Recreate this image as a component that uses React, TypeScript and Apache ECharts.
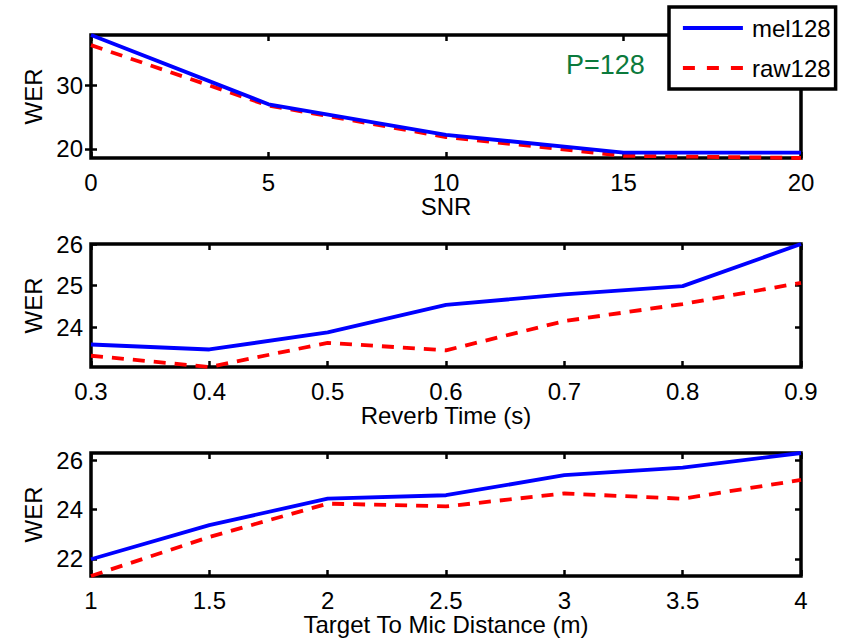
import React, { useEffect, useRef } from 'react';
import * as echarts from 'echarts';

// ---- data ----
const snrX = [0, 5, 10, 15, 20];
const snrMel = [37.9, 27.0, 22.2, 19.4, 19.4];
const snrRaw = [36.3, 26.8, 21.85, 18.9, 18.55];
const snrXTicks = [0, 5, 10, 15, 20];
const snrYTicks = [20, 30];

const revX = [0.3, 0.4, 0.5, 0.6, 0.7, 0.8, 0.9];
const revMel = [23.59, 23.47, 23.88, 24.54, 24.79, 24.99, 26.0];
const revRaw = [23.32, 23.05, 23.63, 23.45, 24.15, 24.56, 25.07];
const revXTicks = [0.3, 0.4, 0.5, 0.6, 0.7, 0.8, 0.9];
const revYTicks = [24, 25, 26];

const distX = [1, 1.5, 2, 2.5, 3, 3.5, 4];
const distMel = [21.99, 23.37, 24.44, 24.58, 25.39, 25.7, 26.29];
const distRaw = [21.31, 22.89, 24.24, 24.13, 24.65, 24.44, 25.2];
const distXTicks = [1, 1.5, 2, 2.5, 3, 3.5, 4];
const distYTicks = [22, 24, 26];

const seriesNames = ['mel128', 'raw128'];
const xNames = ['SNR', 'Reverb Time (s)', 'Target To Mic Distance (m)'];
const yName = 'WER';
const annotation = 'P=128';

const FONT = "'Liberation Sans', Arial, Helvetica, sans-serif";
const BLUE = '#0000ff';
const RED = '#ff0000';
const GREEN = '#0b7a3c';

function pairs(xs: number[], ys: number[]) {
  return xs.map((x, i) => [x, ys[i]]);
}

export default function App() {
  const ref = useRef<HTMLDivElement>(null);

  useEffect(() => {
    if (!ref.current) return;
    const chart = echarts.init(ref.current, null, { renderer: 'svg' });

    const panels = [
      { xs: snrX, mel: snrMel, raw: snrRaw, xT: snrXTicks, yT: snrYTicks, fmt: (v: number) => String(v) },
      { xs: revX, mel: revMel, raw: revRaw, xT: revXTicks, yT: revYTicks, fmt: (v: number) => v.toFixed(1) },
      { xs: distX, mel: distMel, raw: distRaw, xT: distXTicks, yT: distYTicks, fmt: (v: number) => String(v) },
    ];
    const tops = [35, 244, 453];
    const gridH = 123;

    const labelStyle = { color: '#000', fontSize: 24, fontFamily: FONT };
    const tick = (vals: number[]) => ({
      show: true,
      inside: true,
      length: 6,
      customValues: vals,
      lineStyle: { color: '#000', width: 2.5 },
    });

    const grid: any[] = [];
    const xAxis: any[] = [];
    const yAxis: any[] = [];
    const series: any[] = [];

    panels.forEach((p, i) => {
      grid.push({
        left: 91,
        right: 43,
        top: tops[i],
        height: gridH,
        show: true,
        borderColor: '#000',
        borderWidth: 3.5,
        backgroundColor: 'transparent',
      });
      const xMin = Math.min(...p.xs);
      const xMax = Math.max(...p.xs);
      const yMin = Math.min(...p.mel, ...p.raw);
      const yMax = Math.max(...p.mel, ...p.raw);
      xAxis.push({
        type: 'value',
        gridIndex: i,
        position: 'bottom',
        min: xMin,
        max: xMax,
        axisLine: { show: false },
        splitLine: { show: false },
        axisTick: tick(p.xT),
        axisLabel: {
          ...labelStyle,
          margin: 12,
          customValues: p.xT,
          showMinLabel: true,
          showMaxLabel: true,
          formatter: (v: number) => p.fmt(v),
        },
        name: xNames[i],
        nameLocation: 'middle',
        nameGap: 36,
        nameTextStyle: labelStyle,
      });
      xAxis.push({
        type: 'value',
        gridIndex: i,
        position: 'top',
        min: xMin,
        max: xMax,
        axisLine: { show: false },
        splitLine: { show: false },
        axisTick: tick(p.xT),
        axisLabel: { show: false },
      });
      yAxis.push({
        type: 'value',
        gridIndex: i,
        position: 'left',
        min: yMin,
        max: yMax,
        axisLine: { show: false },
        splitLine: { show: false },
        axisTick: tick(p.yT),
        axisLabel: {
          ...labelStyle,
          margin: 8,
          customValues: p.yT,
          showMinLabel: true,
          showMaxLabel: true,
        },
        name: yName,
        nameLocation: 'middle',
        nameGap: 42,
        nameTextStyle: labelStyle,
      });
      yAxis.push({
        type: 'value',
        gridIndex: i,
        position: 'right',
        min: yMin,
        max: yMax,
        axisLine: { show: false },
        splitLine: { show: false },
        axisTick: tick(p.yT),
        axisLabel: { show: false },
      });
      series.push({
        type: 'line',
        name: seriesNames[0],
        xAxisIndex: 2 * i,
        yAxisIndex: 2 * i,
        data: pairs(p.xs, p.mel),
        symbol: 'none',
        color: BLUE,
        lineStyle: { color: BLUE, width: 3.8, type: 'solid' },
        z: 3,
      });
      series.push({
        type: 'line',
        name: seriesNames[1],
        xAxisIndex: 2 * i,
        yAxisIndex: 2 * i,
        data: pairs(p.xs, p.raw),
        symbol: 'none',
        color: RED,
        lineStyle: { color: RED, width: 3.8, type: [12, 9] },
        z: 2,
      });
    });

    chart.setOption({
      animation: false,
      backgroundColor: '#fff',
      grid,
      xAxis,
      yAxis,
      series,
      legend: {
        show: true,
        orient: 'vertical',
        left: 669,
        top: 7,
        padding: [9, 5, 9, 12],
        itemGap: 16,
        itemWidth: 60,
        itemHeight: 14,
        backgroundColor: '#fff',
        borderColor: '#000',
        borderWidth: 3.5,
        borderRadius: 0,
        z: 10,
        itemStyle: { opacity: 0, borderWidth: 0 },
        data: [
          { name: seriesNames[0], itemStyle: { opacity: 0, borderWidth: 0 }, lineStyle: { width: 3.8, type: 'solid', color: BLUE, opacity: 1 } },
          { name: seriesNames[1], itemStyle: { opacity: 0, borderWidth: 0 }, lineStyle: { width: 3.8, type: [12, 12], color: RED, opacity: 1 } },
        ],
        textStyle: { ...labelStyle, lineHeight: 24, padding: [0, 0, 0, 4] },
        selectedMode: false,
      },
      graphic: [
        {
          type: 'text',
          x: 566,
          y: 65,
          z: 5,
          style: {
            text: annotation,
            fill: GREEN,
            fontSize: 27,
            fontFamily: FONT,
            align: 'left',
            verticalAlign: 'middle',
          },
        },
      ],
    });

    return () => chart.dispose();
  }, []);

  return (
    <div
      ref={ref}
      style={{ position: 'absolute', left: 0, top: 0, width: 844, height: 640 }}
    />
  );
}
